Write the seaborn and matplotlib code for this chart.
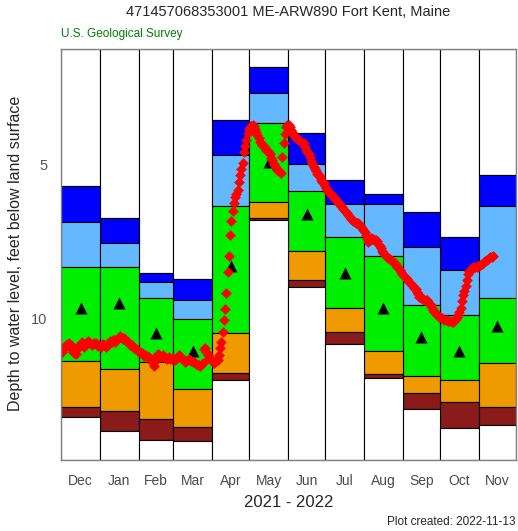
import numpy as np
import pandas as pd
import matplotlib
matplotlib.use("Agg")
import matplotlib.pyplot as plt
import seaborn as sns

# monthly percentile boxes (depth below land surface, ft)
months = ["Dec", "Jan", "Feb", "Mar", "Apr", "May", "Jun", "Jul", "Aug", "Sep", "Oct", "Nov"]
days = [31, 31, 28, 31, 30, 31, 30, 31, 31, 30, 31, 30]
p_high = [5.70, 6.73, 8.52, 8.73, 3.56, 1.85, 3.99, 5.52, 5.96, 6.55, 7.35, 5.35]
p90 = [6.86, 7.55, 8.82, 9.41, 4.69, 2.70, 4.99, 6.30, 6.30, 7.68, 8.43, 6.34]
p75 = [8.34, 8.34, 9.35, 10.03, 6.35, 3.67, 5.86, 7.37, 7.98, 9.56, 9.88, 9.33]
p50 = [9.68, 9.51, 10.49, 11.05, 8.30, 4.92, 6.61, 8.54, 9.68, 10.60, 11.06, 10.25]
p25 = [11.40, 11.66, 11.41, 12.30, 10.49, 6.23, 7.82, 9.66, 11.05, 11.86, 12.00, 11.46]
p10 = [12.89, 13.00, 13.28, 13.54, 11.77, 6.73, 8.76, 10.46, 11.81, 12.44, 12.72, 12.87]
p_low = [13.21, 13.66, 13.95, 13.97, 12.01, 6.81, 8.97, 10.84, 11.94, 12.96, 13.55, 13.46]

# daily values 2021-12-01 .. 2022-11-12
daily_dec = [11.08, 10.98, 10.92, 10.88, 10.82, 10.9, 10.8, 10.88, 10.98, 11.08, 11.12, 11.16, 11.0, 10.95,
             10.88, 10.85, 10.78, 10.86, 10.92, 10.84, 10.78, 10.74, 10.77, 10.82, 10.87, 10.84, 10.79, 10.81,
             10.86, 10.91, 10.88]
daily_jan = [10.92, 10.88, 10.84, 10.87, 10.92, 10.85, 10.79, 10.82, 10.74, 10.77, 10.7, 10.72, 10.76, 10.68,
             10.64, 10.6, 10.58, 10.63, 10.66, 10.64, 10.7, 10.73, 10.76, 10.8, 10.86, 10.88, 10.92, 10.95,
             10.97, 11.02, 11.05]
daily_feb = [11.08, 11.1, 11.14, 11.15, 11.21, 11.18, 11.23, 11.26, 11.24, 11.31, 11.36, 11.46, 11.54, 11.4,
             11.2, 11.15, 11.19, 11.22, 11.24, 11.2, 11.26, 11.29, 11.31, 11.3, 11.27, 11.31, 11.33, 11.3]
daily_mar = [11.32, 11.36, 11.3, 11.24, 11.2, 11.23, 11.29, 11.31, 11.36, 11.41, 11.38, 11.34, 11.33, 11.36,
             11.39, 11.41, 11.43, 11.46, 11.49, 11.51, 11.53, 11.56, 11.5, 11.45, 11.0, 10.95, 11.1, 11.2,
             11.28, 11.31, 11.33]
daily_apr = [11.42, 11.45, 11.40, 11.38, 11.35, 11.20, 10.96, 10.76, 10.43, 10.06, 9.70, 9.17, 8.49, 7.98,
             7.30, 6.84, 6.50, 6.26, 6.05, 5.95, 5.83, 5.58, 5.35, 5.15, 4.97, 4.59, 4.40, 4.21, 3.99, 3.85]
daily_may = [3.80, 3.75, 3.73, 3.75, 3.85, 3.94, 4.05, 4.15, 4.28, 4.32, 4.38, 4.42, 4.48, 4.52, 4.56,
             4.59, 4.68, 4.78, 4.86, 5.0, 5.05, 5.12, 5.18, 5.22, 5.26, 5.29, 4.75, 4.32, 4.0, 3.78, 3.72]
daily_jun = [3.72, 3.80, 3.88, 3.95, 4.05, 4.10, 4.15, 4.18, 4.21, 4.25, 4.28, 4.30, 4.32, 4.45, 4.55,
             4.60, 4.68, 4.75, 4.88, 5.0, 5.08, 5.15, 5.22, 5.30, 5.35, 5.42, 5.50, 5.56, 5.62, 5.70]
daily_jul = [5.76, 5.82, 5.89, 5.93, 5.97, 6.01, 6.05, 6.10, 6.15, 6.20, 6.25, 6.30, 6.34, 6.38, 6.44,
             6.50, 6.55, 6.59, 6.65, 6.72, 6.78, 6.81, 6.85, 6.88, 6.90, 6.91, 6.92, 6.96, 7.02, 7.08, 7.13]
daily_aug = [7.20, 7.30, 7.42, 7.51, 7.45, 7.40, 7.42, 7.44, 7.45, 7.46, 7.50, 7.58, 7.65, 7.72, 7.80,
             7.88, 7.94, 7.98, 8.0, 8.04, 8.08, 8.11, 8.14, 8.16, 8.20, 8.26, 8.32, 8.38, 8.44, 8.50, 8.55]
daily_sep = [8.59, 8.63, 8.68, 8.73, 8.78, 8.83, 8.88, 8.92, 8.96, 9.0, 9.06, 9.14, 9.22, 9.30, 9.33,
             9.35, 9.37, 9.39, 9.40, 9.41, 9.46, 9.52, 9.58, 9.65, 9.73, 9.78, 9.83, 9.88, 9.92, 9.96]
daily_oct = [9.98, 10.0, 10.02, 10.04, 10.06, 10.07, 10.08, 10.09, 10.10, 10.11, 10.12, 10.08, 10.02, 9.95,
             9.88, 9.78, 9.65, 9.45, 9.25, 9.10, 8.95, 8.75, 8.55, 8.45, 8.42, 8.38, 8.34, 8.32, 8.33,
             8.32, 8.30]
daily_nov = [8.30, 8.28, 8.25, 8.22, 8.18, 8.15, 8.12, 8.08, 8.05, 8.02, 8.0, 7.98]

Y_TOP, Y_BOTTOM = 1.256, 14.59

sns.set_style("white")
plt.rcParams['font.family'] = ['Liberation Sans', 'DejaVu Sans']

fig = plt.figure(figsize=(5.18, 5.31), dpi=100)
ax = fig.add_axes([0.1183, 0.1343, 0.8778, 0.7734])

days_arr = np.array(days)
starts = np.concatenate([[0], np.cumsum(days_arr)[:-1]])

bands = [
    (np.full(12, Y_TOP), p_high, "white"),
    (p_high, p90, "#0000FF"),
    (p90, p75, "#63B8FF"),
    (p75, p25, "#00EE00"),
    (p25, p10, "#EE9A00"),
    (p10, p_low, "#8B1A1A"),
    (p_low, np.full(12, Y_BOTTOM), "white"),
]
for top, bot, col in bands:
    top, bot = np.array(top), np.array(bot)
    ax.bar(starts, bot - top, bottom=top, width=days_arr, align='edge',
           color=col, edgecolor='black', linewidth=0.8, zorder=1)

# median triangles
sns.scatterplot(x=starts + days_arr / 2, y=p50, marker='^', color='black', s=75,
                linewidth=0, ax=ax, zorder=3)

# daily values
all_daily = [daily_dec, daily_jan, daily_feb, daily_mar, daily_apr, daily_may,
             daily_jun, daily_jul, daily_aug, daily_sep, daily_oct, daily_nov]
xs, ys = [], []
for s, vals in zip(starts, all_daily):
    xs.extend(s + np.arange(len(vals)) + 0.5)
    ys.extend(vals)
daily = pd.DataFrame({"day": xs, "depth": ys})
sns.scatterplot(data=daily, x="day", y="depth", marker='D', color='#FF0000', s=30,
                linewidth=0, ax=ax, zorder=4)

ax.set_xlim(0, 365)
ax.set_ylim(Y_BOTTOM, Y_TOP)
ax.set_xticks(starts + days_arr / 2)
ax.set_xticklabels(months)
ax.set_yticks([5, 10])
ax.tick_params(axis='x', length=0, pad=10, labelsize=10, labelcolor='#4a4a4a')
ax.tick_params(axis='y', direction='in', length=4, width=0.8, color='#606060', pad=10,
               labelsize=10.5, labelcolor='#555555')
ax.set_xlabel(""); ax.set_ylabel("")
for sp in ax.spines.values():
    sp.set_color('#808080'); sp.set_linewidth(1.0); sp.set_zorder(5)

fig.text(0.557, 0.977, "471457068353001 ME-ARW890 Fort Kent, Maine", ha='center', va='center', fontsize=10.5)
fig.text(0.1178, 0.936, "U.S. Geological Survey", ha='left', va='center', fontsize=8.5, color='#008000')
fig.text(0.029, 0.522, "Depth to water level, feet below land surface", rotation=90,
         ha='center', va='center', fontsize=11.5)
fig.text(0.557, 0.0546, "2021 - 2022", ha='center', va='center', fontsize=12)
fig.text(0.996, 0.017, "Plot created: 2022-11-13", ha='right', va='center', fontsize=8.5)

fig.savefig("out.png", dpi=100)
